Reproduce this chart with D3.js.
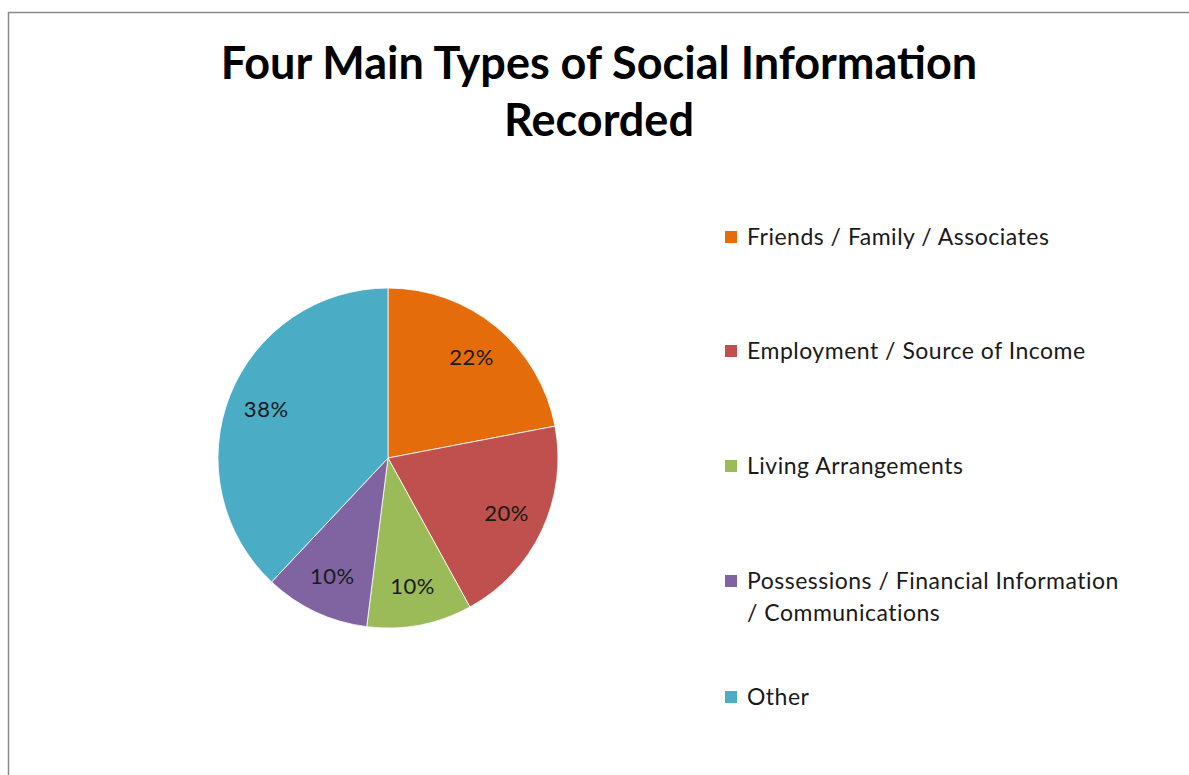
<!DOCTYPE html>
<html>
<head>
<meta charset="utf-8">
<script src="https://cdn.jsdelivr.net/npm/d3@7"></script>
<style>
  body { margin: 0; background: #fff; }
  svg { display: block; font-family: Lato, "Open Sans", sans-serif; }
</style>
</head>
<body>
<div id="chart"></div>
<script>
// chart data
var categories = ["Friends / Family / Associates", "Employment / Source of Income",
    "Living Arrangements", "Possessions / Financial Information / Communications", "Other"];
var values = [22, 20, 10, 10, 38];
var colors = ["#E46C0A", "#C0504D", "#9BBB59", "#8064A2", "#4BACC6"];
var legendLines = [["Friends / Family / Associates"], ["Employment / Source of Income"],
    ["Living Arrangements"], ["Possessions / Financial Information", "/ Communications"], ["Other"]];
var titleLines = ["Four Main Types of Social Information", "Recorded"];

var width = 1189, height = 775;

var svg = d3.select("#chart").append("svg")
    .attr("width", width)
    .attr("height", height);

// frame (only top and left edges show in the shot)
svg.append("rect")
    .attr("x", 8.5).attr("y", 12.5)
    .attr("width", width + 20).attr("height", height + 20)
    .attr("fill", "#fff")
    .attr("stroke", "#8a8a8a")
    .attr("stroke-width", 1.5);

svg.selectAll("text.title")
    .data(titleLines)
    .enter().append("text")
    .attr("class", "title")
    .attr("x", 599)
    .attr("y", function(d, i) { return 79 + i * 57; })
    .attr("text-anchor", "middle")
    .style("font-size", "45px")
    .style("font-weight", "bold")
    .attr("fill", "#000")
    .text(function(d) { return d; });

// pie
var cx = 388, cy = 458, r = 170;
var pie = d3.pie().sort(null).value(function(d) { return d; });
var arc = d3.arc().innerRadius(0).outerRadius(r);
var labelArc = d3.arc().innerRadius(131).outerRadius(131);

var g = svg.append("g").attr("transform", "translate(" + cx + "," + cy + ")");

var slices = g.selectAll(".slice")
    .data(pie(values))
    .enter().append("g")
    .attr("class", "slice");

slices.append("path")
    .attr("d", arc)
    .attr("fill", function(d, i) { return colors[i]; })
    .attr("stroke", "#fff")
    .attr("stroke-width", 0.8);

slices.append("text")
    .attr("transform", function(d) { return "translate(" + labelArc.centroid(d) + ")"; })
    .attr("text-anchor", "middle")
    .attr("dy", "0.35em")
    .style("font-size", "22px")
    .style("letter-spacing", "0.5px")
    .attr("fill", "#1a1a1a")
    .text(function(d) { return d.value + "%"; });

// legend
var legendY = [237, 351, 466, 581, 697];
var legend = svg.selectAll(".legend")
    .data(categories)
    .enter().append("g")
    .attr("class", "legend")
    .attr("transform", function(d, i) { return "translate(725," + legendY[i] + ")"; });

legend.append("rect")
    .attr("x", 0).attr("y", -6)
    .attr("width", 12).attr("height", 12)
    .attr("fill", function(d, i) { return colors[i]; });

legend.append("text")
    .attr("x", 22)
    .attr("y", 0)
    .style("font-size", "23px")
    .style("letter-spacing", "0.5px")
    .attr("fill", "#1a1a1a")
    .selectAll("tspan")
    .data(function(d, i) { return legendLines[i]; })
    .enter().append("tspan")
    .attr("x", 22)
    .attr("dy", function(d, j) { return j === 0 ? "0.35em" : "32px"; })
    .text(function(d) { return d; });
</script>
</body>
</html>
